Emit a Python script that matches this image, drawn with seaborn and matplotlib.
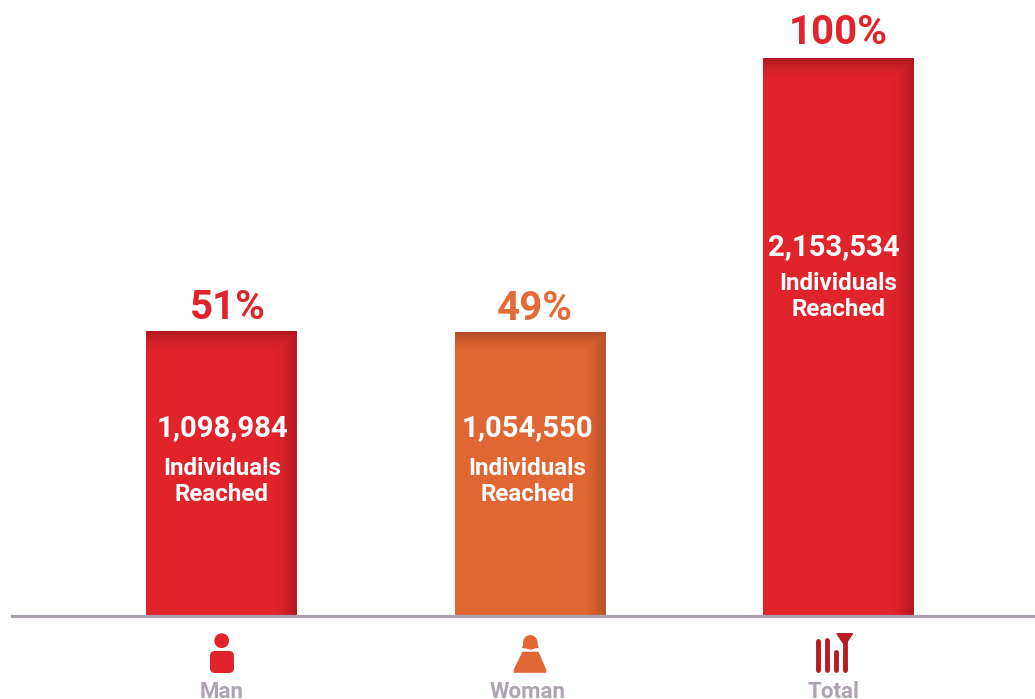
import numpy as np
import pandas as pd
import matplotlib
matplotlib.use("Agg")
import matplotlib.pyplot as plt
from matplotlib.colors import to_rgb
from matplotlib.patches import Circle, FancyBboxPatch, Polygon
from matplotlib.transforms import ScaledTranslation
import seaborn as sns

# ---- data
groups = ["Man", "Woman", "Total"]
bar_heights = [51.0, 50.8, 100.0]          # bar height as drawn (% of the tallest bar)
percent_labels = ["51%", "49%", "100%"]
reach_labels = ["1,098,984", "1,054,550", "2,153,534"]
caption_first = "Individuals"
caption_second = "Reached"

# ---- styles
RED, ORANGE = "#e1232c", "#e06733"
bar_colors = [RED, ORANGE, RED]
dark_colors = ["#b0181f", "#b34e27", "#b0181f"]
pct_colors = [RED, "#e36b37", RED]
AXIS_C = "#ab9fae"
LABEL_C = "#aea3b0"
FW, FH = 1035, 699

sns.set_theme(style="white")
plt.rcParams["font.family"] = ["Roboto", "DejaVu Sans"]

fig = plt.figure(figsize=(FW / 100, FH / 100), dpi=100, facecolor="white")
base_px = 616.0
ax = fig.add_axes([12 / FW, (FH - base_px) / FH, 1 - 12 / FW, base_px / FH])

df = pd.DataFrame({"group": groups, "height": bar_heights})
sns.barplot(data=df, x="group", y="height", hue="group", order=groups, hue_order=groups,
            palette=bar_colors, saturation=1, width=0.487, legend=False, linewidth=0, ax=ax)

step = 308.5
xlim = (-(221.5 - 12) / step, (FW - 221.5) / step)
y_scale = 557.5 / 100
ylim = (0, base_px / y_scale)

# shaded top and right edges of each bar
for patch, dark, base in zip(ax.patches, dark_colors, bar_colors):
    x0, y0, w, h = patch.get_x(), patch.get_y(), patch.get_width(), patch.get_height()
    nx, ny = 151, int(round(h * y_scale))
    u = np.arange(nx)[None, :]
    v = np.arange(ny)[:, None]
    right = np.clip((u - (nx - 24)) / 24, 0, 1) ** 1.5
    top = np.clip(1 - v / 20, 0, 1) ** 1.5
    alpha = np.maximum(right, top)
    rgba = np.zeros((ny, nx, 4))
    rgba[..., :3] = to_rgb(dark)
    rgba[..., 3] = alpha
    ax.imshow(rgba, extent=(x0, x0 + w, y0, y0 + h), origin="upper", aspect="auto",
              interpolation="bilinear", zorder=patch.get_zorder() + 0.5)
ax.set_xlim(*xlim)
ax.set_ylim(*ylim)

# axes furniture
sns.despine(ax=ax, left=True, top=True, right=True)
ax.spines["bottom"].set_color(AXIS_C)
ax.spines["bottom"].set_linewidth(2.3)
ax.set_xlabel("")
ax.set_ylabel("")
ax.set_yticks([])
ax.tick_params(axis="x", length=0, pad=47, labelsize=16, labelcolor=LABEL_C)
tick_dx = [0, -2.5, -5]
for t, dx in zip(ax.get_xticklabels(), tick_dx):
    t.set_fontweight("bold")
    t.set_transform(t.get_transform() + ScaledTranslation(dx / 100, 0, fig.dpi_scale_trans))

# labels: pixel offsets from each bar's base
num_dx = [0.5, -3, -4.5]
cap_dx = [0.5, -3, 0]
pct_dx = [6.5, 4.5, 0]
pct_dy = [5, 5, 6]
num_dy = [188, 188, 369]
cap1_dy = [147.6, 147.6, 333]
cap2_dy = [121.6, 121.6, 307]
for i, (h, p, r) in enumerate(zip(bar_heights, percent_labels, reach_labels)):
    ax.annotate(p, xy=(i, h), xytext=(pct_dx[i], pct_dy[i]), textcoords="offset pixels",
                ha="center", va="bottom", fontsize=29, fontweight="bold", color=pct_colors[i])
    ax.annotate(r, xy=(i, 0), xytext=(num_dx[i], num_dy[i]), textcoords="offset pixels",
                ha="center", va="center", fontsize=21.1, fontweight="bold", color="white", zorder=6)
    ax.annotate(caption_first, xy=(i, 0), xytext=(cap_dx[i], cap1_dy[i]), textcoords="offset pixels",
                ha="center", va="center", fontsize=17.4, fontweight="bold", color="white", zorder=6)
    ax.annotate(caption_second, xy=(i, 0), xytext=(cap_dx[i], cap2_dy[i]), textcoords="offset pixels",
                ha="center", va="center", fontsize=17.4, fontweight="bold", color="white", zorder=6)

# pictograms on an overlay in image pixels
ov = fig.add_axes([0, 0, 1, 1], facecolor="none")
ov.set_xlim(0, FW)
ov.set_ylim(FH, 0)
ov.axis("off")
# man
ov.add_patch(Circle((221.7, 640.7), 7.4, fc=RED, ec="none"))
ov.add_patch(FancyBboxPatch((215, 656), 14, 12, boxstyle="round,pad=5,rounding_size=5", fc=RED, ec="none"))
# woman
ov.add_patch(Circle((530.3, 642.3), 7.2, fc=ORANGE, ec="none"))
ov.add_patch(Polygon([(522, 648), (524, 642), (537, 642), (538.7, 648), (534, 648.5), (530.3, 649.5), (526.5, 648.5)],
                     closed=True, fc=ORANGE, ec="none"))
ov.add_patch(Polygon([(523, 652.5), (538, 652.5), (545.5, 670), (545.5, 672), (514.5, 672), (514.5, 670)],
                     closed=True, fc=ORANGE, ec=ORANGE, lw=1.2, joinstyle="round"))
# total
TOT = "#b81c22"
for xc, ytop in zip([818.3, 827, 835.7, 844.7], [641, 640, 652, 640]):
    ov.plot([xc, xc], [ytop, 670.2], color=TOT, lw=3.5, solid_capstyle="round")
ov.add_patch(Polygon([(836.8, 633.6), (852.6, 633.6), (846.5, 643), (843, 643)], closed=True, fc=TOT, ec=TOT, lw=0.8))

fig.savefig("out.png", dpi=100, facecolor="white")
